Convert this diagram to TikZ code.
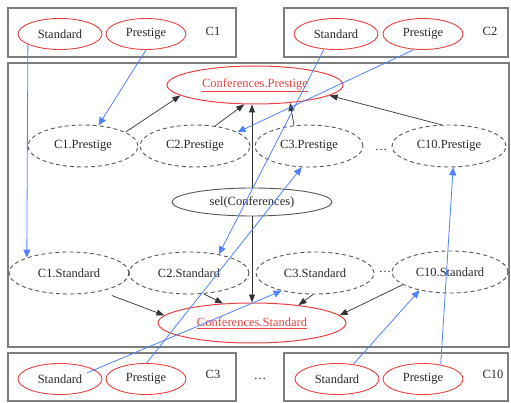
\documentclass[tikz,border=0pt]{standalone}
\usepackage{fontspec}
\setmainfont{Liberation Serif}
\usetikzlibrary{shapes.geometric,arrows.meta}
\definecolor{boxgray}{RGB}{125,125,125}
\definecolor{elgray}{RGB}{85,85,85}
\definecolor{redl}{RGB}{232,64,64}
\definecolor{bluel}{RGB}{80,130,255}
\definecolor{txt}{RGB}{40,40,40}
\tikzset{
  every node/.style={font=\fontsize{12.5}{14}\selectfont, text=txt},
  cluster/.style={draw=boxgray, line width=1.6pt},
  srcel/.style={ellipse, draw=redl, line width=0.9pt, inner sep=0pt, minimum width=#1, minimum height=31pt},
  viewel/.style={ellipse, draw=elgray, dashed, dash pattern=on 4pt off 3pt, line width=0.9pt, inner sep=0pt, minimum width=#1, minimum height=42pt},
  confel/.style={ellipse, draw=redl, line width=1pt, inner sep=0pt, text=redl, minimum width=#1, minimum height=38pt},
  selel/.style={ellipse, draw=elgray, line width=0.9pt, inner sep=0pt, minimum width=160pt, minimum height=28pt},
  blk/.style={draw=black!80, line width=0.7pt, -{Triangle[length=8pt,width=6pt]}},
  blu/.style={draw=bluel, line width=0.8pt, -{Triangle[length=8pt,width=7pt]}, bluel}
}
\begin{document}
\begin{tikzpicture}[x=1pt,y=-1pt]
\useasboundingbox (0,0) rectangle (511,403);
% cluster boxes
\draw[cluster] (8,8) rectangle (236,57);
\draw[cluster] (284,8) rectangle (508,57);
\draw[cluster] (8,63) rectangle (509,347);
\draw[cluster] (8,353) rectangle (236,401);
\draw[cluster] (284,353) rectangle (508,401);
% top sources
\node[srcel=84pt] (c1s) at (60,34) {Standard};
\node[srcel=80pt] (c1p) at (146,34) {Prestige};
\node (c1l) at (213,31) {C1};
\node[srcel=84pt] (c2s) at (336,34) {Standard};
\node[srcel=80pt] (c2p) at (423,34) {Prestige};
\node (c2l) at (490,31) {C2};
% bottom sources
\node[srcel=84pt] (c3s) at (60,379) {Standard};
\node[srcel=80pt] (c3p) at (146,379) {Prestige};
\node (c3l) at (213,374) {C3};
\node (bdots) at (260,379) {\ldots};
\node[srcel=84pt] (c10s) at (337,379) {Standard};
\node[srcel=80pt] (c10p) at (423,379) {Prestige};
\node (c10l) at (493,374) {C10};
% middle
\node[confel=176pt] (cp) at (255,85) {\underline{Conferences.Prestige}};
\node[viewel=110pt] (p1) at (83,146) {C1.Prestige};
\node[viewel=110pt] (p2) at (195,146) {C2.Prestige};
\node[viewel=108pt] (p3) at (309,146) {C3.Prestige};
\node (pdots) at (381,150) {\ldots};
\node[viewel=114pt] (p10) at (449,146) {C10.Prestige};
\node[selel] (sel) at (252,202) {sel(Conferences)};
\node[viewel=120pt] (s1) at (69,273) {C1.Standard};
\node[viewel=120pt] (s2) at (189,273) {C2.Standard};
\node[viewel=118pt] (s3) at (315,273) {C3.Standard};
\node (sdots) at (385,272) {\ldots};
\node[viewel=116pt] (s10) at (450,272) {C10.Standard};
\node[confel=188pt, minimum height=40pt] (cs) at (252,323) {\underline{Conferences.Standard}};
% black arrows
\draw[blk] (p1.18) -- (cp.188);
\draw[blk] (p2.45) -- (cp.241);
\draw[blk] (p3.126) -- (cp.333);
\draw[blk] (p10.110) -- (cp.352);
\draw[blk] (sel.north) -- (sel.north |- cp.south);
\draw[blk] (sel.south) -- (sel.south |- cs.north);
\draw[blk, shorten <=12pt] (s1.330) -- (cs.175);
\draw[blk] (s2.305) -- (cs.146);
\draw[blk] (s3.265) -- (cs.21);
\draw[blk] (s10.195) -- (cs.5);
% blue arrows
\draw[blu] (c1s.198) -- (s1.160);
\draw[blu] (c1p.south) -- (p1.53);
\draw[blu] (c2s.232) -- (s2.32);
\draw[blu] (c2p.240) -- (p2.18);
\draw[blu, shorten <=-8pt] (c3s.15) -- (s3.208);
\draw[blu] (c3p.88) -- (p3.251);
\draw[blu] (c10s.42) -- (s10.211);
\draw[blu] (c10p.39) -- (p10.281);
\end{tikzpicture}
\end{document}
